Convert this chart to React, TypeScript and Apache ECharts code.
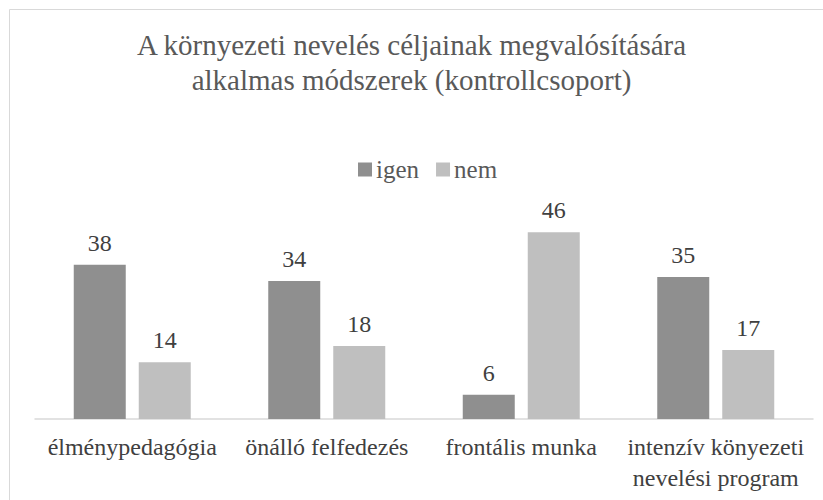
import React, { useEffect, useRef } from "react";
import * as echarts from "echarts";

const titleText = "A környezeti nevelés céljainak megvalósítására\nalkalmas módszerek (kontrollcsoport)";
const categories = [
  "élménypedagógia",
  "önálló felfedezés",
  "frontális munka",
  "intenzív könyezeti\nnevelési program",
];
const seriesNames = ["igen", "nem"];
const igenValues = [38, 34, 6, 35];
const nemValues = [14, 18, 46, 17];

const FONT = "Liberation Serif";

export default function App() {
  const ref = useRef<HTMLDivElement>(null);
  useEffect(() => {
    if (!ref.current) return;
    const chart = echarts.init(ref.current, undefined, { renderer: "svg" });
    chart.setOption({
      animation: false,
      backgroundColor: "#ffffff",
      title: {
        text: titleText,
        left: "center",
        top: 27,
        padding: 0,
        textStyle: {
          fontFamily: FONT,
          fontSize: 29,
          fontWeight: "normal",
          color: "#595959",
          lineHeight: 35,
        },
      },
      legend: {
        top: 157,
        left: 358,
        padding: 0,
        itemWidth: 14,
        itemHeight: 14,
        itemGap: 17,
        icon: "rect",
        textStyle: { fontFamily: FONT, fontSize: 25, color: "#595959", padding: [0, 0, 0, -1] },
        data: seriesNames,
      },
      graphic: [
        {
          type: "rect",
          shape: { x: 9.5, y: 9.5, width: 830, height: 510 },
          style: { fill: "none", stroke: "#d9d9d9", lineWidth: 1 },
          silent: true,
        },
      ],
      grid: { left: 35, right: 10, top: 216, bottom: 81, containLabel: false },
      xAxis: {
        type: "category",
        data: categories,
        axisLine: { lineStyle: { color: "#d9d9d9", width: 1.5 } },
        axisTick: { show: false },
        axisLabel: {
          fontFamily: FONT,
          fontSize: 24,
          color: "#404040",
          margin: 12,
          lineHeight: 31,
          interval: 0,
        },
      },
      yAxis: {
        type: "value",
        min: 0,
        max: 50,
        show: false,
        splitLine: { show: false },
      },
      series: [
        {
          name: seriesNames[0],
          type: "bar",
          data: igenValues,
          barWidth: 52,
          barGap: "25%",
          itemStyle: { color: "#8f8f8f" },
          label: {
            show: true,
            position: "top",
            distance: 10,
            fontFamily: FONT,
            fontSize: 24,
            color: "#404040",
          },
        },
        {
          name: seriesNames[1],
          type: "bar",
          data: nemValues,
          barWidth: 52,
          barGap: "25%",
          itemStyle: { color: "#bfbfbf" },
          label: {
            show: true,
            position: "top",
            distance: 10,
            fontFamily: FONT,
            fontSize: 24,
            color: "#404040",
          },
        },
      ],
    });
    return () => chart.dispose();
  }, []);
  return (
    <div
      ref={ref}
      style={{ position: "fixed", left: 0, top: 0, width: 823, height: 500 }}
    />
  );
}
